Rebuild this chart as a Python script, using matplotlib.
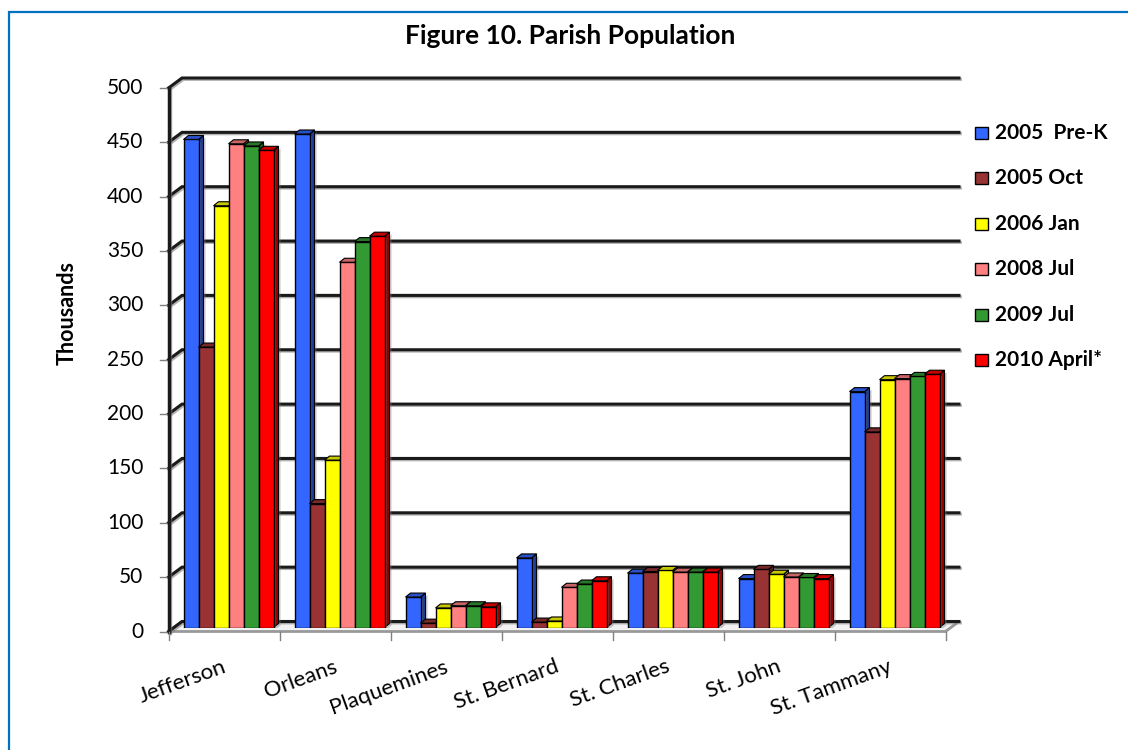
import matplotlib
matplotlib.use('Agg')
import matplotlib.pyplot as plt
import matplotlib.patheffects as pe
from matplotlib.patches import Polygon, Rectangle
from matplotlib.colors import to_rgb

plt.rcParams['font.family'] = ['Lato', 'DejaVu Sans']

# population, thousands
parishes = ['Jefferson', 'Orleans', 'Plaquemines', 'St. Bernard', 'St. Charles', 'St. John', 'St. Tammany']
pre_k_2005 = [449, 454, 28, 64, 50, 45, 217]
oct_2005 = [258, 114, 4, 5, 51.5, 53.5, 180]
jan_2006 = [388, 154, 18, 6, 52.5, 49, 228]
jul_2008 = [445, 336, 20, 37, 51, 46.5, 229]
jul_2009 = [443, 355, 20, 40, 51, 46, 231]
apr_2010 = [439, 360, 19, 43, 51, 45, 233]

series = [pre_k_2005, oct_2005, jan_2006, jul_2008, jul_2009, apr_2010]
labels = ['2005  Pre-K', '2005 Oct', '2006 Jan', '2008 Jul', '2009 Jul', '2010 April*']
colors = ['#3366FF', '#993333', '#FFFF00', '#FF8080', '#339933', '#FF0000']
yticks = list(range(0, 501, 50))

W, H = 1128, 750
fig = plt.figure(figsize=(W / 100, H / 100), dpi=100)

# bar plane in pixels
X0, X1 = 173, 950
Y0, Y500 = 627.5, 84
ax = fig.add_axes([X0 / W, 1 - Y0 / H, (X1 - X0) / W, (Y0 - Y500) / H])
ax.set_xlim(-0.5, 6.5)
ax.set_ylim(0, 500)
ax.axis('off')

sx = (X1 - X0) / 7
sy = (Y0 - Y500) / 500


def dx(p):
    return p / sx


def dy(p):
    return p / sy


FRONT = (-4.5, -4)   # pixel offset of front plane (x right, y up)
BACK = (9, 6)        # pixel offset of back wall

shadow = [pe.SimpleLineShadow(offset=(1, -1), shadow_color='gray', alpha=0.6), pe.Normal()]

# floor
xfl, xfr = -0.5 + dx(FRONT[0]), 6.5 + dx(FRONT[0])
xbl, xbr = -0.5 + dx(BACK[0]), 6.5 + dx(BACK[0])
ax.add_patch(Polygon([(xfl, dy(FRONT[1])), (xfr, dy(FRONT[1])), (xbr, dy(BACK[1])), (xbl, dy(BACK[1]))],
                     closed=True, fc='#f2f2f2', ec='#999999', lw=2, zorder=0.5, clip_on=False))

# gridlines on the back wall + left wall
for v in yticks:
    yf = v + dy(FRONT[1])
    yb = v + dy(BACK[1])
    ax.plot([xfl, xbl, xbr], [yf, yb, yb], color='#1a1a1a', lw=2.2, zorder=1,
            clip_on=False, solid_joinstyle='miter', path_effects=shadow)
    ax.plot([xfl - dx(9), xfl], [yf, yf], color='#808080', lw=1, zorder=1, clip_on=False)
    ax.text(xfl - dx(25), yf, str(v), ha='right', va='center', fontsize=15)

ax.plot([xfl, xfl], [dy(FRONT[1]), 500 + dy(FRONT[1])], color='#1a1a1a', lw=2.5,
        zorder=1.5, clip_on=False, path_effects=shadow)

# category ticks and labels
y0f = dy(FRONT[1])
for k in range(len(parishes) + 1):
    x = -0.5 + k + dx(FRONT[0])
    ax.plot([x, x], [y0f, y0f - dy(8)], color='#808080', lw=1, clip_on=False)
for k, name in enumerate(parishes):
    ax.text(k + dx(FRONT[0]) - dx(2), y0f - dy(25), name, rotation=20, rotation_mode='anchor',
            ha='right', va='top', fontsize=16)

# pseudo-3D bars
w = dx(15)
ddx, ddy = dx(5), dy(4)
bar_fx = [pe.SimplePatchShadow(offset=(1.5, -1.5), shadow_rgbFace='gray', alpha=0.4), pe.Normal()]
for i, (vals, col) in enumerate(zip(series, colors)):
    rgb = to_rgb(col)
    side_c = tuple(c * 0.6 for c in rgb)
    top_c = tuple(c * 0.78 for c in rgb)
    for k, v in enumerate(vals):
        x = k - dx(45) + i * w
        z = 3 + i
        ax.add_patch(Polygon([(x + w, 0), (x + w + ddx, ddy), (x + w + ddx, v + ddy), (x + w, v)],
                             closed=True, fc=side_c, ec='black', lw=0.8, zorder=z, path_effects=bar_fx))
        ax.add_patch(Rectangle((x, 0), w, v, fc=col, ec='black', lw=1, zorder=z, path_effects=bar_fx))
        ax.add_patch(Polygon([(x, v), (x + ddx, v + ddy), (x + w + ddx, v + ddy), (x + w, v)],
                             closed=True, fc=top_c, ec='black', lw=0.8, zorder=z))

# legend
for i, (lab, col) in enumerate(zip(labels, colors)):
    yc = 133 + 45.4 * i
    fig.add_artist(Rectangle((975 / W, 1 - (yc + 6) / H), 13 / W, 12 / H, transform=fig.transFigure,
                             fc=col, ec='black', lw=1))
    fig.text(995 / W, 1 - yc / H, lab, fontsize=15, weight='bold', va='center')

fig.text(570 / W, 1 - 36 / H, 'Figure 10. Parish Population', ha='center', va='center',
         fontsize=19, weight='bold')
fig.text(67 / W, 1 - 313 / H, 'Thousands', rotation=90, ha='center', va='center',
         fontsize=15.5, weight='bold')

# chart frame
fig.add_artist(Rectangle((9 / W, -0.05), 1.2, 1 - 12 / H + 0.05, transform=fig.transFigure,
                         fill=False, ec='#0070C0', lw=1.6))

fig.savefig('out.png', dpi=100)
